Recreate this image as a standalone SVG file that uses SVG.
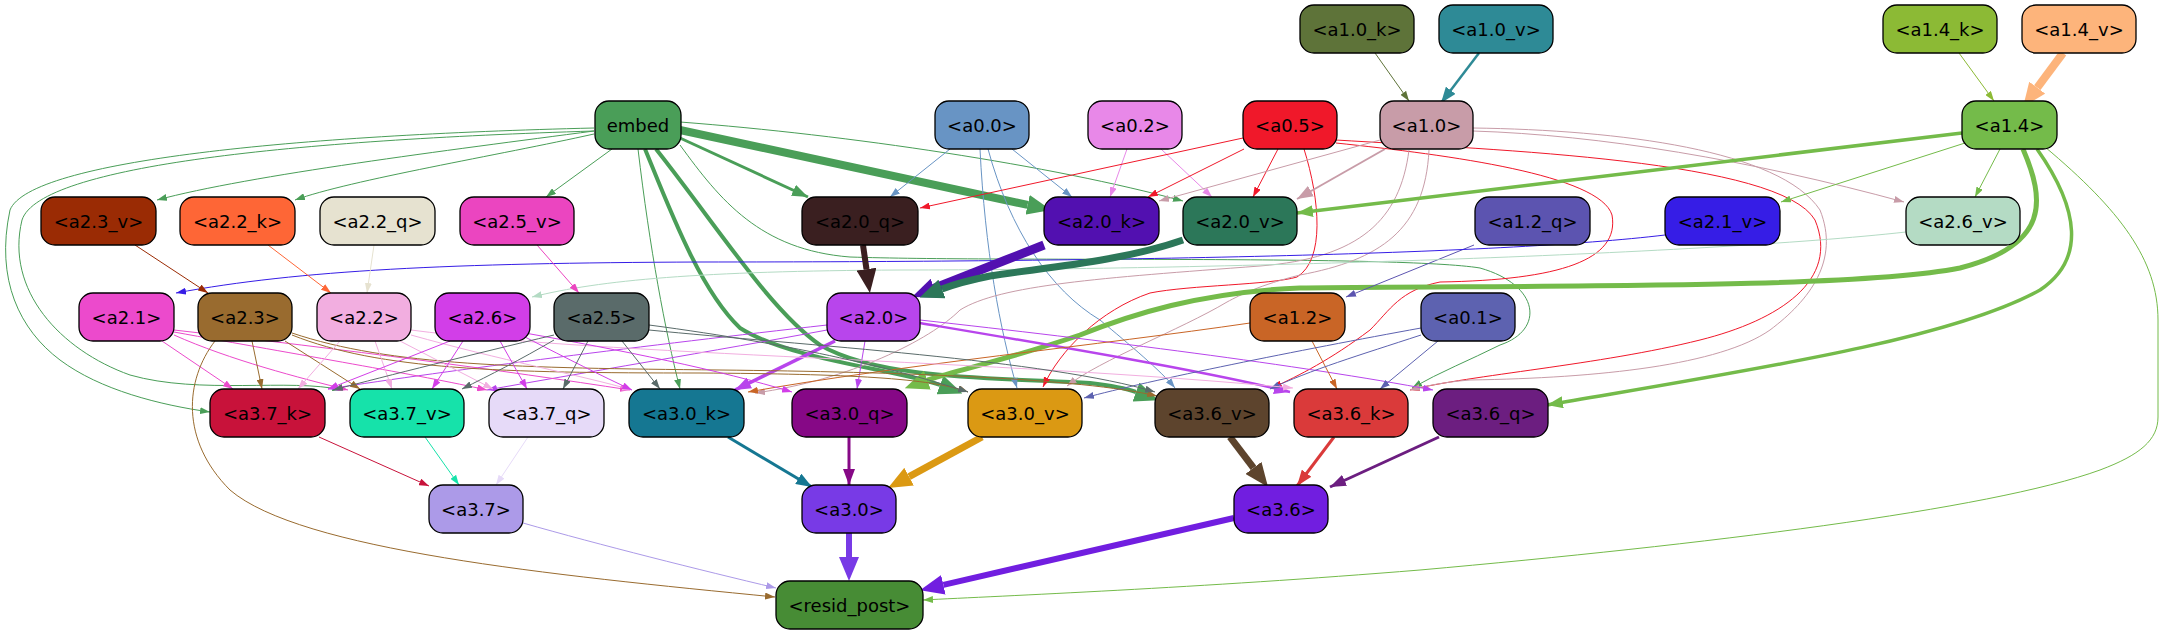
<svg xmlns="http://www.w3.org/2000/svg" width="2164" height="635" viewBox="0 0 2164 635">
<style>
.n rect{stroke:#000;stroke-width:1.3}
.n text{font-family:"DejaVu Sans","Liberation Sans",sans-serif;font-size:18px;text-anchor:middle;dominant-baseline:central;fill:#000}
#edges path{fill:none;stroke-width:1}
</style>
<defs>
<marker id="s-emb" viewBox="0 0 10 7" refX="10" refY="3.5" markerWidth="10" markerHeight="7" markerUnits="userSpaceOnUse" orient="auto"><path d="M0,0L10,3.5L0,7z" fill="#4a9e58"/></marker>
<marker id="m-emb" viewBox="0 0 16 12" refX="16" refY="6" markerWidth="16" markerHeight="12" markerUnits="userSpaceOnUse" orient="auto"><path d="M0,0L16,6L0,12z" fill="#4a9e58"/></marker>
<marker id="t-emb" viewBox="0 0 24 20" refX="0" refY="10" markerWidth="24" markerHeight="20" markerUnits="userSpaceOnUse" orient="auto"><path d="M0,0L24,10L0,20z" fill="#4a9e58"/></marker>
<marker id="s-a00" viewBox="0 0 10 7" refX="10" refY="3.5" markerWidth="10" markerHeight="7" markerUnits="userSpaceOnUse" orient="auto"><path d="M0,0L10,3.5L0,7z" fill="#6894c4"/></marker>
<marker id="s-a02" viewBox="0 0 10 7" refX="10" refY="3.5" markerWidth="10" markerHeight="7" markerUnits="userSpaceOnUse" orient="auto"><path d="M0,0L10,3.5L0,7z" fill="#e888e8"/></marker>
<marker id="s-a05" viewBox="0 0 10 7" refX="10" refY="3.5" markerWidth="10" markerHeight="7" markerUnits="userSpaceOnUse" orient="auto"><path d="M0,0L10,3.5L0,7z" fill="#f0182a"/></marker>
<marker id="s-a10" viewBox="0 0 10 7" refX="10" refY="3.5" markerWidth="10" markerHeight="7" markerUnits="userSpaceOnUse" orient="auto"><path d="M0,0L10,3.5L0,7z" fill="#c89ca8"/></marker>
<marker id="m-a10" viewBox="0 0 16 12" refX="16" refY="6" markerWidth="16" markerHeight="12" markerUnits="userSpaceOnUse" orient="auto"><path d="M0,0L16,6L0,12z" fill="#c89ca8"/></marker>
<marker id="s-a10k" viewBox="0 0 10 7" refX="10" refY="3.5" markerWidth="10" markerHeight="7" markerUnits="userSpaceOnUse" orient="auto"><path d="M0,0L10,3.5L0,7z" fill="#5e7339"/></marker>
<marker id="m-a10v" viewBox="0 0 16 12" refX="16" refY="6" markerWidth="16" markerHeight="12" markerUnits="userSpaceOnUse" orient="auto"><path d="M0,0L16,6L0,12z" fill="#2e8a96"/></marker>
<marker id="s-a14k" viewBox="0 0 10 7" refX="10" refY="3.5" markerWidth="10" markerHeight="7" markerUnits="userSpaceOnUse" orient="auto"><path d="M0,0L10,3.5L0,7z" fill="#8cba35"/></marker>
<marker id="t-a14v" viewBox="0 0 24 20" refX="0" refY="10" markerWidth="24" markerHeight="20" markerUnits="userSpaceOnUse" orient="auto"><path d="M0,0L24,10L0,20z" fill="#fdb47b"/></marker>
<marker id="s-a14" viewBox="0 0 10 7" refX="10" refY="3.5" markerWidth="10" markerHeight="7" markerUnits="userSpaceOnUse" orient="auto"><path d="M0,0L10,3.5L0,7z" fill="#74bb4a"/></marker>
<marker id="m-a14" viewBox="0 0 16 12" refX="16" refY="6" markerWidth="16" markerHeight="12" markerUnits="userSpaceOnUse" orient="auto"><path d="M0,0L16,6L0,12z" fill="#74bb4a"/></marker>
<marker id="t-a14" viewBox="0 0 24 20" refX="0" refY="10" markerWidth="24" markerHeight="20" markerUnits="userSpaceOnUse" orient="auto"><path d="M0,0L24,10L0,20z" fill="#74bb4a"/></marker>
<marker id="s-a12q" viewBox="0 0 10 7" refX="10" refY="3.5" markerWidth="10" markerHeight="7" markerUnits="userSpaceOnUse" orient="auto"><path d="M0,0L10,3.5L0,7z" fill="#5c54b0"/></marker>
<marker id="s-a21v" viewBox="0 0 10 7" refX="10" refY="3.5" markerWidth="10" markerHeight="7" markerUnits="userSpaceOnUse" orient="auto"><path d="M0,0L10,3.5L0,7z" fill="#361de6"/></marker>
<marker id="s-a26v" viewBox="0 0 10 7" refX="10" refY="3.5" markerWidth="10" markerHeight="7" markerUnits="userSpaceOnUse" orient="auto"><path d="M0,0L10,3.5L0,7z" fill="#b4dbc4"/></marker>
<marker id="s-a23v" viewBox="0 0 10 7" refX="10" refY="3.5" markerWidth="10" markerHeight="7" markerUnits="userSpaceOnUse" orient="auto"><path d="M0,0L10,3.5L0,7z" fill="#9a2b04"/></marker>
<marker id="s-a22k" viewBox="0 0 10 7" refX="10" refY="3.5" markerWidth="10" markerHeight="7" markerUnits="userSpaceOnUse" orient="auto"><path d="M0,0L10,3.5L0,7z" fill="#fe6636"/></marker>
<marker id="s-a22q" viewBox="0 0 10 7" refX="10" refY="3.5" markerWidth="10" markerHeight="7" markerUnits="userSpaceOnUse" orient="auto"><path d="M0,0L10,3.5L0,7z" fill="#e6e2d0"/></marker>
<marker id="s-a25v" viewBox="0 0 10 7" refX="10" refY="3.5" markerWidth="10" markerHeight="7" markerUnits="userSpaceOnUse" orient="auto"><path d="M0,0L10,3.5L0,7z" fill="#eb45c0"/></marker>
<marker id="t-a20q" viewBox="0 0 24 20" refX="0" refY="10" markerWidth="24" markerHeight="20" markerUnits="userSpaceOnUse" orient="auto"><path d="M0,0L24,10L0,20z" fill="#3a1f20"/></marker>
<marker id="t-a20k" viewBox="0 0 24 20" refX="0" refY="10" markerWidth="24" markerHeight="20" markerUnits="userSpaceOnUse" orient="auto"><path d="M0,0L24,10L0,20z" fill="#5210b0"/></marker>
<marker id="t-a20v" viewBox="0 0 24 20" refX="0" refY="10" markerWidth="24" markerHeight="20" markerUnits="userSpaceOnUse" orient="auto"><path d="M0,0L24,10L0,20z" fill="#2c7759"/></marker>
<marker id="s-a20" viewBox="0 0 10 7" refX="10" refY="3.5" markerWidth="10" markerHeight="7" markerUnits="userSpaceOnUse" orient="auto"><path d="M0,0L10,3.5L0,7z" fill="#b845ec"/></marker>
<marker id="m-a20" viewBox="0 0 16 12" refX="16" refY="6" markerWidth="16" markerHeight="12" markerUnits="userSpaceOnUse" orient="auto"><path d="M0,0L16,6L0,12z" fill="#b845ec"/></marker>
<marker id="s-a12" viewBox="0 0 10 7" refX="10" refY="3.5" markerWidth="10" markerHeight="7" markerUnits="userSpaceOnUse" orient="auto"><path d="M0,0L10,3.5L0,7z" fill="#c96526"/></marker>
<marker id="s-a01" viewBox="0 0 10 7" refX="10" refY="3.5" markerWidth="10" markerHeight="7" markerUnits="userSpaceOnUse" orient="auto"><path d="M0,0L10,3.5L0,7z" fill="#5d62b0"/></marker>
<marker id="s-a21" viewBox="0 0 10 7" refX="10" refY="3.5" markerWidth="10" markerHeight="7" markerUnits="userSpaceOnUse" orient="auto"><path d="M0,0L10,3.5L0,7z" fill="#ec4acc"/></marker>
<marker id="s-a23" viewBox="0 0 10 7" refX="10" refY="3.5" markerWidth="10" markerHeight="7" markerUnits="userSpaceOnUse" orient="auto"><path d="M0,0L10,3.5L0,7z" fill="#996b2f"/></marker>
<marker id="s-a22" viewBox="0 0 10 7" refX="10" refY="3.5" markerWidth="10" markerHeight="7" markerUnits="userSpaceOnUse" orient="auto"><path d="M0,0L10,3.5L0,7z" fill="#f2aee0"/></marker>
<marker id="s-a26" viewBox="0 0 10 7" refX="10" refY="3.5" markerWidth="10" markerHeight="7" markerUnits="userSpaceOnUse" orient="auto"><path d="M0,0L10,3.5L0,7z" fill="#d23ee8"/></marker>
<marker id="s-a25" viewBox="0 0 10 7" refX="10" refY="3.5" markerWidth="10" markerHeight="7" markerUnits="userSpaceOnUse" orient="auto"><path d="M0,0L10,3.5L0,7z" fill="#5a6b6a"/></marker>
<marker id="s-a37k" viewBox="0 0 10 7" refX="10" refY="3.5" markerWidth="10" markerHeight="7" markerUnits="userSpaceOnUse" orient="auto"><path d="M0,0L10,3.5L0,7z" fill="#c8123a"/></marker>
<marker id="s-a37v" viewBox="0 0 10 7" refX="10" refY="3.5" markerWidth="10" markerHeight="7" markerUnits="userSpaceOnUse" orient="auto"><path d="M0,0L10,3.5L0,7z" fill="#16e2aa"/></marker>
<marker id="s-a37q" viewBox="0 0 10 7" refX="10" refY="3.5" markerWidth="10" markerHeight="7" markerUnits="userSpaceOnUse" orient="auto"><path d="M0,0L10,3.5L0,7z" fill="#e6daf8"/></marker>
<marker id="m-a30k" viewBox="0 0 16 12" refX="16" refY="6" markerWidth="16" markerHeight="12" markerUnits="userSpaceOnUse" orient="auto"><path d="M0,0L16,6L0,12z" fill="#157792"/></marker>
<marker id="m-a30q" viewBox="0 0 16 12" refX="16" refY="6" markerWidth="16" markerHeight="12" markerUnits="userSpaceOnUse" orient="auto"><path d="M0,0L16,6L0,12z" fill="#860886"/></marker>
<marker id="t-a30v" viewBox="0 0 24 20" refX="0" refY="10" markerWidth="24" markerHeight="20" markerUnits="userSpaceOnUse" orient="auto"><path d="M0,0L24,10L0,20z" fill="#db9913"/></marker>
<marker id="t-a36v" viewBox="0 0 24 20" refX="0" refY="10" markerWidth="24" markerHeight="20" markerUnits="userSpaceOnUse" orient="auto"><path d="M0,0L24,10L0,20z" fill="#5d442d"/></marker>
<marker id="m-a36k" viewBox="0 0 16 12" refX="16" refY="6" markerWidth="16" markerHeight="12" markerUnits="userSpaceOnUse" orient="auto"><path d="M0,0L16,6L0,12z" fill="#da3a3a"/></marker>
<marker id="m-a36q" viewBox="0 0 16 12" refX="16" refY="6" markerWidth="16" markerHeight="12" markerUnits="userSpaceOnUse" orient="auto"><path d="M0,0L16,6L0,12z" fill="#6c1e80"/></marker>
<marker id="s-a37" viewBox="0 0 10 7" refX="10" refY="3.5" markerWidth="10" markerHeight="7" markerUnits="userSpaceOnUse" orient="auto"><path d="M0,0L10,3.5L0,7z" fill="#ac9ae8"/></marker>
<marker id="t-a30" viewBox="0 0 24 20" refX="0" refY="10" markerWidth="24" markerHeight="20" markerUnits="userSpaceOnUse" orient="auto"><path d="M0,0L24,10L0,20z" fill="#783ae6"/></marker>
<marker id="t-a36" viewBox="0 0 24 20" refX="0" refY="10" markerWidth="24" markerHeight="20" markerUnits="userSpaceOnUse" orient="auto"><path d="M0,0L24,10L0,20z" fill="#711ee0"/></marker>
</defs>
<rect width="2164" height="635" fill="#fff"/>
<g id="edges">
<g stroke="#4a9e58">
<path d="M594,131 C450,150 250,175 157,200" marker-end="url(#s-emb)"/>
<path d="M594,134 C500,155 350,180 295,200" marker-end="url(#s-emb)"/>
<path d="M612,149 L546,197" marker-end="url(#s-emb)"/>
<path d="M680,138 L808,197" style="stroke-width:3" marker-end="url(#m-emb)"/>
<path d="M680,130 L1027.6,204.9" style="stroke-width:8" marker-end="url(#t-emb)"/>
<path d="M680,122 C850,135 1050,165 1183,201" marker-end="url(#s-emb)"/>
<path d="M594,128 C300,135 30,160 10,210 C-5,280 20,330 60,360 C100,390 160,405 210,412" marker-end="url(#s-emb)"/>
<path d="M594,131 C300,140 40,165 22,220 C5,290 60,350 130,375 C200,395 290,378 342,390" marker-end="url(#s-emb)"/>
<path d="M638,149 C650,250 665,330 680,389" marker-end="url(#s-emb)"/>
<path d="M645,149 C670,210 700,290 740,328 C790,360 900,370 940,385" style="stroke-width:4" marker-end="url(#t-emb)"/>
<path d="M656,149 C720,230 770,310 820,345 C880,380 1000,378 1090,383 C1115,386 1125,388 1136,392" style="stroke-width:4" marker-end="url(#t-emb)"/>
<path d="M680,145 C720,200 760,250 850,257 C1000,262 1400,255 1480,268 C1540,285 1545,330 1500,345 C1470,360 1440,372 1412,388" marker-end="url(#s-emb)"/>
</g>
<g stroke="#6894c4">
<path d="M950,149 L890,197" marker-end="url(#s-a00)"/>
<path d="M1012,149 L1072,197" marker-end="url(#s-a00)"/>
<path d="M980,149 C985,250 1000,330 1017,388" marker-end="url(#s-a00)"/>
<path d="M988,149 C1010,230 1050,290 1100,320 C1130,345 1160,370 1175,388" marker-end="url(#s-a00)"/>
</g>
<g stroke="#e888e8">
<path d="M1127,149 L1110,197" marker-end="url(#s-a02)"/>
<path d="M1161,149 L1212,197" marker-end="url(#s-a02)"/>
</g>
<g stroke="#f0182a">
<path d="M1243,138 L920,208" marker-end="url(#s-a05)"/>
<path d="M1244,149 L1148,197" marker-end="url(#s-a05)"/>
<path d="M1278,149 L1253,197" marker-end="url(#s-a05)"/>
<path d="M1304,149 C1320,200 1325,260 1297,277 C1270,285 1190,285 1150,293 C1100,310 1060,350 1043,387" marker-end="url(#s-a05)"/>
<path d="M1336,143 C1450,155 1600,175 1612,215 C1620,260 1560,280 1440,282 C1400,290 1390,310 1370,330 C1330,360 1300,375 1272,388" marker-end="url(#s-a05)"/>
<path d="M1336,140 C1500,150 1780,160 1815,220 C1840,280 1780,320 1700,340 C1600,365 1470,375 1410,390" marker-end="url(#s-a05)"/>
</g>
<g stroke="#c89ca8">
<path d="M1380,140 L1159,201" marker-end="url(#s-a10)"/>
<path d="M1385,149 L1297,199" style="stroke-width:2" marker-end="url(#m-a10)"/>
<path d="M1473,131 C1600,135 1750,160 1904,202" marker-end="url(#s-a10)"/>
<path d="M1409,150 C1400,220 1360,258 1260,266 C1100,278 1000,285 960,310 C930,340 850,380 755,393" marker-end="url(#s-a10)"/>
<path d="M1429,150 C1425,230 1380,260 1300,275 C1260,285 1240,295 1227,302 C1180,330 1100,360 1067,386" marker-end="url(#s-a10)"/>
<path d="M1473,128 C1620,130 1780,150 1820,210 C1840,260 1810,300 1770,330 C1720,365 1600,378 1470,380 C1445,382 1425,386 1410,390" marker-end="url(#s-a10)"/>
</g>
<path d="M1375,53 L1409,101" stroke="#5e7339" marker-end="url(#s-a10k)"/>
<path d="M1479,53 L1441,103" stroke="#2e8a96" style="stroke-width:2.5" marker-end="url(#m-a10v)"/>
<path d="M1959,53 L1994,101" stroke="#8cba35" marker-end="url(#s-a14k)"/>
<path d="M2063,53 L2037.3,87.7" stroke="#fdb47b" style="stroke-width:8" marker-end="url(#t-a14v)"/>
<g stroke="#74bb4a">
<path d="M1962,133 L1297,213" style="stroke-width:3.5" marker-end="url(#m-a14)"/>
<path d="M1965,143 L1781,202" marker-end="url(#s-a14)"/>
<path d="M2000,149 L1975,197" marker-end="url(#s-a14)"/>
<path d="M2023,149 C2045,200 2050,245 1960,268 C1850,290 1500,285 1300,288 C1200,292 1130,315 1080,335 C1000,362 950,372 927.3,380.1" style="stroke-width:5" marker-end="url(#t-a14)"/>
<path d="M2037,149 C2080,210 2085,260 2040,290 C1950,340 1750,370 1547,405" style="stroke-width:3.5" marker-end="url(#m-a14)"/>
<path d="M2045,147 C2120,210 2158,260 2158,320 L2158,417 C2158,440 2140,455 2100,470 C1990,510 1700,545 1420,570 C1200,588 1000,596 923,600" marker-end="url(#s-a14)"/>
</g>
<path d="M1474,245 L1346,297" stroke="#5c54b0" marker-end="url(#s-a12q)"/>
<path d="M1665,235 C1500,255 1100,262 700,262 C450,263 300,270 176,293" stroke="#361de6" marker-end="url(#s-a21v)"/>
<path d="M1906,232 C1700,255 1200,270 900,270 C700,271 600,280 532,297" stroke="#b4dbc4" marker-end="url(#s-a26v)"/>
<path d="M135,245 L208,293" stroke="#9a2b04" marker-end="url(#s-a23v)"/>
<path d="M268,245 L331,293" stroke="#fe6636" marker-end="url(#s-a22k)"/>
<path d="M374,245 L367,293" stroke="#e6e2d0" marker-end="url(#s-a22q)"/>
<path d="M537,245 L579,293" stroke="#eb45c0" marker-end="url(#s-a25v)"/>
<path d="M863,245 L866.5,269.2" stroke="#3a1f20" style="stroke-width:6" marker-end="url(#t-a20q)"/>
<path d="M1044,245 L934.3,288.1" stroke="#5210b0" style="stroke-width:9" marker-end="url(#t-a20k)"/>
<path d="M1183,240 C1120,262 1040,268 990,276 C970,280 955,284 942,289" stroke="#2c7759" style="stroke-width:7" marker-end="url(#t-a20v)"/>
<g stroke="#b845ec">
<path d="M835,341 L735,390" style="stroke-width:3.5" marker-end="url(#m-a20)"/>
<path d="M865,341 L857,389" marker-end="url(#s-a20)"/>
<path d="M920,323 C1050,345 1200,370 1290,392" style="stroke-width:2.5" marker-end="url(#m-a20)"/>
<path d="M920,320 C1100,340 1300,365 1433,390" marker-end="url(#s-a20)"/>
<path d="M827,325 C650,345 450,370 328,389" marker-end="url(#s-a20)"/>
<path d="M827,330 C720,350 570,375 487,390" marker-end="url(#s-a20)"/>
</g>
<g stroke="#c96526">
<path d="M1312,341 L1337,389" marker-end="url(#s-a12)"/>
<path d="M1250,323 C1100,345 900,365 748,392" marker-end="url(#s-a12)"/>
</g>
<g stroke="#5d62b0">
<path d="M1421,328 C1300,350 1150,380 1084,398" marker-end="url(#s-a01)"/>
<path d="M1421,335 C1360,355 1310,370 1270,389" marker-end="url(#s-a01)"/>
<path d="M1438,341 L1380,389" marker-end="url(#s-a01)"/>
</g>
<g stroke="#ec4acc">
<path d="M162,341 L233,389" marker-end="url(#s-a21)"/>
<path d="M174,335 C230,360 300,378 348,390" marker-end="url(#s-a21)"/>
<path d="M174,332 C300,355 420,375 487,390" marker-end="url(#s-a21)"/>
<path d="M174,330 C350,350 500,370 630,390" marker-end="url(#s-a21)"/>
</g>
<g stroke="#996b2f">
<path d="M252,341 L262,389" marker-end="url(#s-a23)"/>
<path d="M285,341 L360,389" marker-end="url(#s-a23)"/>
<path d="M215,341 C185,380 180,440 230,490 C300,550 550,575 775,597" marker-end="url(#s-a23)"/>
<path d="M292,335 C380,370 500,373 700,373 C850,374 930,378 968,392" marker-end="url(#s-a23)"/>
<path d="M292,333 C390,366 520,368 720,370 C900,372 1080,378 1157,396" marker-end="url(#s-a23)"/>
</g>
<g stroke="#f2aee0">
<path d="M340,341 L298,389" marker-end="url(#s-a22)"/>
<path d="M375,341 L392,389" marker-end="url(#s-a22)"/>
<path d="M400,341 L493,389" marker-end="url(#s-a22)"/>
<path d="M411,335 C500,360 580,375 632,390" marker-end="url(#s-a22)"/>
<path d="M411,330 C600,355 1000,360 1293,388" marker-end="url(#s-a22)"/>
</g>
<g stroke="#d23ee8">
<path d="M450,341 L328,389" marker-end="url(#s-a26)"/>
<path d="M463,341 L432,389" marker-end="url(#s-a26)"/>
<path d="M500,341 L527,389" marker-end="url(#s-a26)"/>
<path d="M525,337 C570,360 600,375 632,390" marker-end="url(#s-a26)"/>
<path d="M525,333 C620,350 720,370 792,392" marker-end="url(#s-a26)"/>
</g>
<g stroke="#5a6b6a">
<path d="M554,335 C470,355 390,375 333,390" marker-end="url(#s-a25)"/>
<path d="M554,340 C520,360 490,375 462,389" marker-end="url(#s-a25)"/>
<path d="M588,341 L563,389" marker-end="url(#s-a25)"/>
<path d="M622,341 L660,389" marker-end="url(#s-a25)"/>
<path d="M649,325 C800,345 900,370 968,392" marker-end="url(#s-a25)"/>
<path d="M649,330 C800,345 1050,360 1155,392" marker-end="url(#s-a25)"/>
</g>
<path d="M319,437 L429,486" stroke="#c8123a" marker-end="url(#s-a37k)"/>
<path d="M425,437 L459,485" stroke="#16e2aa" marker-end="url(#s-a37v)"/>
<path d="M528,437 L496,485" stroke="#e6daf8" marker-end="url(#s-a37q)"/>
<path d="M728,437 L812,487" stroke="#157792" style="stroke-width:3" marker-end="url(#m-a30k)"/>
<path d="M849,437 L849,485" stroke="#860886" style="stroke-width:3" marker-end="url(#m-a30q)"/>
<path d="M982,437 L909.1,476.6" stroke="#db9913" style="stroke-width:7" marker-end="url(#t-a30v)"/>
<path d="M1230,437 L1253.5,467.9" stroke="#5d442d" style="stroke-width:7" marker-end="url(#t-a36v)"/>
<path d="M1334,437 L1297,486" stroke="#da3a3a" style="stroke-width:3" marker-end="url(#m-a36k)"/>
<path d="M1439,437 L1330,487" stroke="#6c1e80" style="stroke-width:3" marker-end="url(#m-a36q)"/>
<path d="M523,523 C600,545 700,570 776,588" stroke="#ac9ae8" marker-end="url(#s-a37)"/>
<path d="M849,533 L849,557" stroke="#783ae6" style="stroke-width:6" marker-end="url(#t-a30)"/>
<path d="M1234,518 L943.4,584.8" stroke="#711ee0" style="stroke-width:6" marker-end="url(#t-a36)"/>
</g>
<g id="nodes">
<g class="n" id="n-a1_0_k"><rect x="1300" y="5" width="114" height="48" rx="14" fill="#5e7339"/><text x="1357" y="29">&lt;a1.0_k&gt;</text></g>
<g class="n" id="n-a1_0_v"><rect x="1439" y="5" width="114" height="48" rx="14" fill="#2e8a96"/><text x="1496" y="29">&lt;a1.0_v&gt;</text></g>
<g class="n" id="n-a1_4_k"><rect x="1883" y="5" width="114" height="48" rx="14" fill="#8cba35"/><text x="1940" y="29">&lt;a1.4_k&gt;</text></g>
<g class="n" id="n-a1_4_v"><rect x="2022" y="5" width="114" height="48" rx="14" fill="#fdb47b"/><text x="2079" y="29">&lt;a1.4_v&gt;</text></g>
<g class="n" id="n-embed"><rect x="595" y="101" width="86" height="48" rx="14" fill="#4a9e58"/><text x="638" y="125">embed</text></g>
<g class="n" id="n-a0_0"><rect x="935" y="101" width="94" height="48" rx="14" fill="#6894c4"/><text x="982" y="125">&lt;a0.0&gt;</text></g>
<g class="n" id="n-a0_2"><rect x="1088" y="101" width="94" height="48" rx="14" fill="#e888e8"/><text x="1135" y="125">&lt;a0.2&gt;</text></g>
<g class="n" id="n-a0_5"><rect x="1243" y="101" width="94" height="48" rx="14" fill="#f0182a"/><text x="1290" y="125">&lt;a0.5&gt;</text></g>
<g class="n" id="n-a1_0"><rect x="1380" y="101" width="93" height="48" rx="14" fill="#c89ca8"/><text x="1426.5" y="125">&lt;a1.0&gt;</text></g>
<g class="n" id="n-a1_4"><rect x="1962" y="101" width="95" height="48" rx="14" fill="#74bb4a"/><text x="2009.5" y="125">&lt;a1.4&gt;</text></g>
<g class="n" id="n-a2_3_v"><rect x="41" y="197" width="115" height="48" rx="14" fill="#9a2b04"/><text x="98.5" y="221">&lt;a2.3_v&gt;</text></g>
<g class="n" id="n-a2_2_k"><rect x="180" y="197" width="115" height="48" rx="14" fill="#fe6636"/><text x="237.5" y="221">&lt;a2.2_k&gt;</text></g>
<g class="n" id="n-a2_2_q"><rect x="320" y="197" width="115" height="48" rx="14" fill="#e6e2d0"/><text x="377.5" y="221">&lt;a2.2_q&gt;</text></g>
<g class="n" id="n-a2_5_v"><rect x="460" y="197" width="114" height="48" rx="14" fill="#eb45c0"/><text x="517" y="221">&lt;a2.5_v&gt;</text></g>
<g class="n" id="n-a2_0_q"><rect x="802" y="197" width="116" height="48" rx="14" fill="#3a1f20"/><text x="860" y="221">&lt;a2.0_q&gt;</text></g>
<g class="n" id="n-a2_0_k"><rect x="1044" y="197" width="115" height="48" rx="14" fill="#5210b0"/><text x="1101.5" y="221">&lt;a2.0_k&gt;</text></g>
<g class="n" id="n-a2_0_v"><rect x="1183" y="197" width="114" height="48" rx="14" fill="#2c7759"/><text x="1240" y="221">&lt;a2.0_v&gt;</text></g>
<g class="n" id="n-a1_2_q"><rect x="1475" y="197" width="115" height="48" rx="14" fill="#5c54b0"/><text x="1532.5" y="221">&lt;a1.2_q&gt;</text></g>
<g class="n" id="n-a2_1_v"><rect x="1665" y="197" width="115" height="48" rx="14" fill="#361de6"/><text x="1722.5" y="221">&lt;a2.1_v&gt;</text></g>
<g class="n" id="n-a2_6_v"><rect x="1906" y="197" width="114" height="48" rx="14" fill="#b4dbc4"/><text x="1963" y="221">&lt;a2.6_v&gt;</text></g>
<g class="n" id="n-a2_1"><rect x="79" y="293" width="95" height="48" rx="14" fill="#ec4acc"/><text x="126.5" y="317">&lt;a2.1&gt;</text></g>
<g class="n" id="n-a2_3"><rect x="198" y="293" width="94" height="48" rx="14" fill="#996b2f"/><text x="245" y="317">&lt;a2.3&gt;</text></g>
<g class="n" id="n-a2_2"><rect x="317" y="293" width="94" height="48" rx="14" fill="#f2aee0"/><text x="364" y="317">&lt;a2.2&gt;</text></g>
<g class="n" id="n-a2_6"><rect x="435" y="293" width="95" height="48" rx="14" fill="#d23ee8"/><text x="482.5" y="317">&lt;a2.6&gt;</text></g>
<g class="n" id="n-a2_5"><rect x="554" y="293" width="95" height="48" rx="14" fill="#5a6b6a"/><text x="601.5" y="317">&lt;a2.5&gt;</text></g>
<g class="n" id="n-a2_0"><rect x="827" y="293" width="93" height="48" rx="14" fill="#b845ec"/><text x="873.5" y="317">&lt;a2.0&gt;</text></g>
<g class="n" id="n-a1_2"><rect x="1250" y="293" width="95" height="48" rx="14" fill="#c96526"/><text x="1297.5" y="317">&lt;a1.2&gt;</text></g>
<g class="n" id="n-a0_1"><rect x="1421" y="293" width="94" height="48" rx="14" fill="#5d62b0"/><text x="1468" y="317">&lt;a0.1&gt;</text></g>
<g class="n" id="n-a3_7_k"><rect x="210" y="389" width="115" height="48" rx="14" fill="#c8123a"/><text x="267.5" y="413">&lt;a3.7_k&gt;</text></g>
<g class="n" id="n-a3_7_v"><rect x="350" y="389" width="114" height="48" rx="14" fill="#16e2aa"/><text x="407" y="413">&lt;a3.7_v&gt;</text></g>
<g class="n" id="n-a3_7_q"><rect x="489" y="389" width="115" height="48" rx="14" fill="#e6daf8"/><text x="546.5" y="413">&lt;a3.7_q&gt;</text></g>
<g class="n" id="n-a3_0_k"><rect x="629" y="389" width="115" height="48" rx="14" fill="#157792"/><text x="686.5" y="413">&lt;a3.0_k&gt;</text></g>
<g class="n" id="n-a3_0_q"><rect x="792" y="389" width="115" height="48" rx="14" fill="#860886"/><text x="849.5" y="413">&lt;a3.0_q&gt;</text></g>
<g class="n" id="n-a3_0_v"><rect x="968" y="389" width="114" height="48" rx="14" fill="#db9913"/><text x="1025" y="413">&lt;a3.0_v&gt;</text></g>
<g class="n" id="n-a3_6_v"><rect x="1155" y="389" width="114" height="48" rx="14" fill="#5d442d"/><text x="1212" y="413">&lt;a3.6_v&gt;</text></g>
<g class="n" id="n-a3_6_k"><rect x="1294" y="389" width="114" height="48" rx="14" fill="#da3a3a"/><text x="1351" y="413">&lt;a3.6_k&gt;</text></g>
<g class="n" id="n-a3_6_q"><rect x="1433" y="389" width="115" height="48" rx="14" fill="#6c1e80"/><text x="1490.5" y="413">&lt;a3.6_q&gt;</text></g>
<g class="n" id="n-a3_7"><rect x="429" y="485" width="94" height="48" rx="14" fill="#ac9ae8"/><text x="476" y="509">&lt;a3.7&gt;</text></g>
<g class="n" id="n-a3_0"><rect x="802" y="485" width="94" height="48" rx="14" fill="#783ae6"/><text x="849" y="509">&lt;a3.0&gt;</text></g>
<g class="n" id="n-a3_6"><rect x="1234" y="485" width="94" height="48" rx="14" fill="#711ee0"/><text x="1281" y="509">&lt;a3.6&gt;</text></g>
<g class="n" id="n-resid_post"><rect x="776" y="581" width="147" height="48" rx="14" fill="#478c35"/><text x="849.5" y="605">&lt;resid_post&gt;</text></g>
</g>
</svg>
